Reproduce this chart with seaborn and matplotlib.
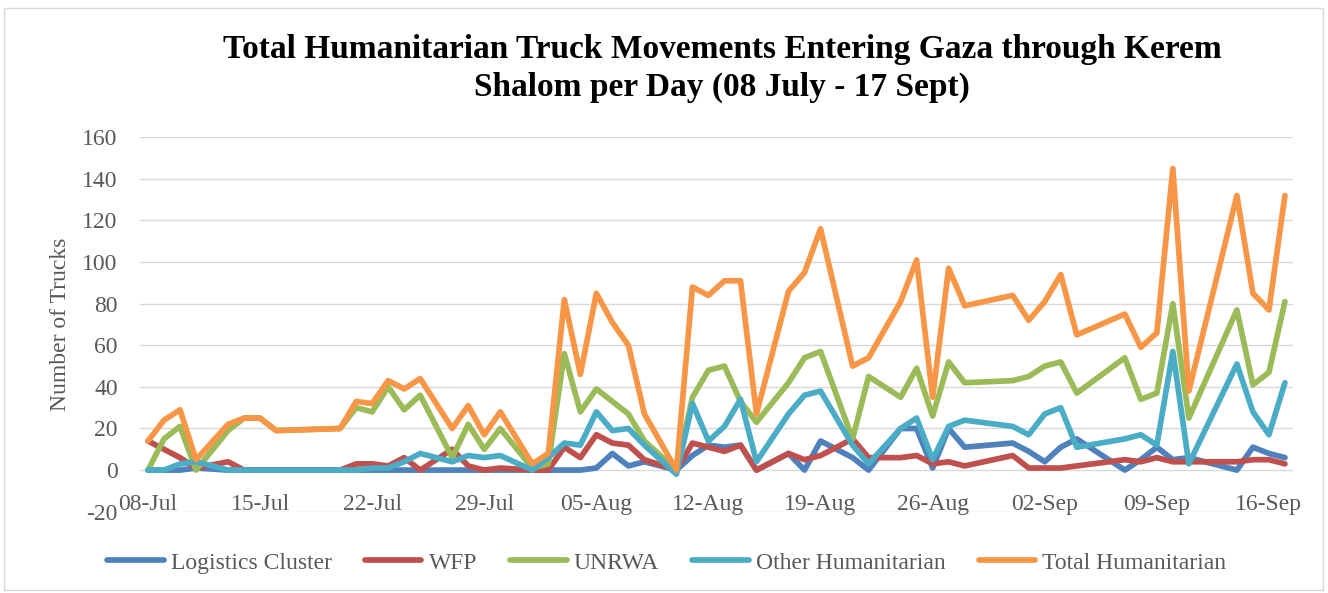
import pandas as pd
import numpy as np
import matplotlib.pyplot as plt
import matplotlib.dates as mdates
import seaborn as sns

sns.set_style("white")
plt.rcParams["font.family"] = ["Liberation Serif", "DejaVu Serif"]
plt.rcParams["axes.unicode_minus"] = False

# ==========================================
# DATA
# ==========================================

dates = [
    "2014-07-08", "2014-07-09", "2014-07-10", "2014-07-11", "2014-07-13",
    "2014-07-14", "2014-07-15", "2014-07-16", "2014-07-20", "2014-07-21",
    "2014-07-22", "2014-07-23", "2014-07-24", "2014-07-25", "2014-07-27",
    "2014-07-28", "2014-07-29", "2014-07-30", "2014-08-01", "2014-08-02",
    "2014-08-03", "2014-08-04", "2014-08-05", "2014-08-06", "2014-08-07",
    "2014-08-08", "2014-08-10", "2014-08-11", "2014-08-12", "2014-08-13",
    "2014-08-14", "2014-08-15", "2014-08-17", "2014-08-18", "2014-08-19",
    "2014-08-21", "2014-08-22", "2014-08-24", "2014-08-25", "2014-08-26",
    "2014-08-27", "2014-08-28", "2014-08-31", "2014-09-01", "2014-09-02",
    "2014-09-03", "2014-09-04", "2014-09-07", "2014-09-08", "2014-09-09",
    "2014-09-10", "2014-09-11", "2014-09-14", "2014-09-15", "2014-09-16",
    "2014-09-17",
]

logistics = [0, 0, 0, 1, 0, 0, 0, 0, 0, 0,
             0, 0, 0, 0, 0, 0, 0, 0, 0, 0,
             0, 0, 1, 8, 2, 4, 0, 7, 12, 11,
             12, 0, 8, 0, 14, 6, 0, 20, 20, 1,
             20, 11, 13, 9, 4, 11, 15, 0, 5, 11,
             5, 6, 0, 11, 8, 6]

wfp = [14, 10, 6, 1, 4, 0, 0, 0, 0, 3,
       3, 2, 6, 0, 10, 2, 0, 1, 0, 0,
       11, 6, 17, 13, 12, 5, 0, 13, 11, 9,
       12, 0, 8, 5, 7, 15, 6, 6, 7, 3,
       4, 2, 7, 1, 1, 1, 2, 5, 4, 6,
       4, 4, 4, 5, 5, 3]

unrwa = [0, 15, 21, 0, 19, 25, 25, 19, 20, 30,
         28, 40, 29, 36, 6, 22, 10, 20, 1, 3,
         56, 28, 39, 33, 27, 14, 0, 35, 48, 50,
         33, 23, 42, 54, 57, 15, 45, 35, 49, 26,
         52, 42, 43, 45, 50, 52, 37, 54, 34, 37,
         80, 25, 77, 41, 47, 81]

other = [0, 0, 3, 4, 0, 0, 0, 0, 0, 0,
         1, 1, 4, 8, 4, 7, 6, 7, 0, 6,
         13, 12, 28, 19, 20, 12, -2, 32, 14, 21,
         34, 4, 27, 36, 38, 12, 3, 20, 25, 5,
         21, 24, 21, 17, 27, 30, 11, 15, 17, 12,
         57, 3, 51, 28, 17, 42]

total = [14, 24, 29, 5, 22, 25, 25, 19, 20, 33,
         32, 43, 39, 44, 20, 31, 17, 28, 3, 8,
         82, 46, 85, 71, 60, 27, 0, 88, 84, 91,
         91, 27, 86, 95, 116, 50, 54, 81, 101, 35,
         97, 79, 84, 72, 81, 94, 65, 75, 59, 66,
         145, 38, 132, 85, 77, 132]

series_names = ["Logistics Cluster", "WFP", "UNRWA", "Other Humanitarian", "Total Humanitarian"]
colors = ["#4F81BD", "#C0504D", "#9BBB59", "#4BACC6", "#F79646"]

df = pd.DataFrame({
    "date": pd.to_datetime(dates),
    "Logistics Cluster": logistics,
    "WFP": wfp,
    "UNRWA": unrwa,
    "Other Humanitarian": other,
    "Total Humanitarian": total,
})
long_df = df.melt(id_vars="date", var_name="series", value_name="trucks")

# ==========================================
# PLOT
# ==========================================

fig = plt.figure(figsize=(13.28, 5.93), dpi=100)
ax = fig.add_axes([0.1054, 0.1371, 0.8682, 0.6314])

sns.lineplot(data=long_df, x="date", y="trucks", hue="series",
             hue_order=series_names, palette=colors, linewidth=4.1,
             ax=ax, legend=True)
for line in ax.get_lines():
    line.set_solid_joinstyle("round")
    line.set_solid_capstyle("round")

grey = "#595959"
ax.set_ylim(-20, 160)
ax.set_yticks(np.arange(-20, 161, 20))
ax.set_xlim(pd.Timestamp("2014-07-07 12:00"), pd.Timestamp("2014-09-17 12:00"))
ticks = pd.date_range("2014-07-08", "2014-09-16", freq="7D")
ax.set_xticks(ticks)
ax.xaxis.set_major_formatter(mdates.DateFormatter("%d-%b"))

ax.grid(axis="y", color="#D9D9D9", linewidth=1.0)
ax.set_axisbelow(True)
for s in ax.spines.values():
    s.set_visible(False)
ax.spines["bottom"].set_position(("data", 0))
ax.tick_params(axis="x", length=0, pad=17, labelsize=17, labelcolor=grey)
ax.tick_params(axis="y", length=0, pad=16, labelsize=17, labelcolor=grey)
ax.set_xlabel("")
ax.set_ylabel("Number of Trucks", fontsize=17, color=grey, labelpad=8)

handles, labels = ax.get_legend_handles_labels()
ax.get_legend().remove()
fig.legend(handles, labels, loc="center", bbox_to_anchor=(0.502, 0.0506),
           ncol=5, frameon=False, fontsize=17, labelcolor=grey,
           handlelength=2.4, handletextpad=0.3, columnspacing=1.4)

fig.text(0.544, 0.942,
         "Total Humanitarian Truck Movements Entering Gaza through Kerem\n"
         "Shalom per Day (08 July - 17 Sept)",
         ha="center", va="top", fontsize=24, fontweight="bold",
         linespacing=1.28, color="black")

# chart border
fig.patches.append(plt.Rectangle((0.003, 0.005), 0.993, 0.982, transform=fig.transFigure,
                                 fill=False, edgecolor="#D9D9D9", linewidth=1.0))

fig.savefig("out.png", dpi=100)
